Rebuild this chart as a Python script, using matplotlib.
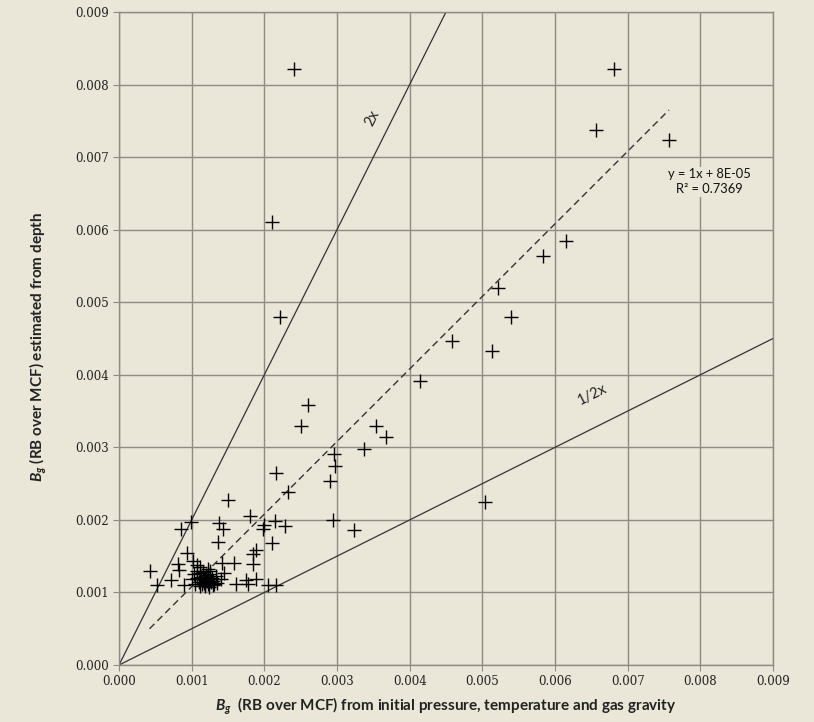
import numpy as np
import matplotlib
matplotlib.use("Agg")
import matplotlib.pyplot as plt

# Bg from pressure/temperature/gas gravity (x) vs Bg from depth (y)
bg_pvt = [
    0.00241, 0.00681, 0.00656, 0.00757, 0.00210, 0.00615, 0.00584, 0.00521,
    0.00539, 0.00513, 0.00222, 0.00458, 0.00414, 0.00260, 0.00251, 0.00353,
    0.00368, 0.00337, 0.00296, 0.00297, 0.00291, 0.00216, 0.00233, 0.00504,
    0.00295, 0.00323, 0.00229, 0.00210, 0.00214, 0.00199, 0.00150, 0.00180,
    0.00198, 0.00099, 0.00086, 0.00138, 0.00143, 0.00136, 0.00094, 0.00189,
    0.00185, 0.00184, 0.00158, 0.00081, 0.00082, 0.00042, 0.00052, 0.00071,
    0.00089, 0.00161, 0.00175, 0.00177, 0.00189, 0.00205, 0.00216, 0.00142,
    0.00145, 0.00102,
    # dense cluster
    0.00100, 0.00103, 0.00105, 0.00107, 0.00108, 0.00110, 0.00111, 0.00112,
    0.00113, 0.00114, 0.00115, 0.00116, 0.00117, 0.00118, 0.00119, 0.00120,
    0.00121, 0.00122, 0.00123, 0.00124, 0.00125, 0.00126, 0.00128, 0.00130,
    0.00131, 0.00133, 0.00135, 0.00112, 0.00118, 0.00125, 0.00108, 0.00130,
    0.00140, 0.00122, 0.00115,
]
bg_depth = [
    0.00821, 0.00821, 0.00738, 0.00723, 0.00611, 0.00585, 0.00564, 0.00519,
    0.00480, 0.00433, 0.00480, 0.00446, 0.00392, 0.00358, 0.00330, 0.00330,
    0.00314, 0.00298, 0.00291, 0.00274, 0.00253, 0.00265, 0.00238, 0.00225,
    0.00200, 0.00186, 0.00191, 0.00168, 0.00198, 0.00193, 0.00228, 0.00205,
    0.00187, 0.00197, 0.00188, 0.00196, 0.00187, 0.00170, 0.00155, 0.00158,
    0.00153, 0.00139, 0.00141, 0.00139, 0.00131, 0.00129, 0.00110, 0.00117,
    0.00110, 0.00112, 0.00117, 0.00112, 0.00118, 0.00110, 0.00110, 0.00141,
    0.00127, 0.00143,
    # dense cluster
    0.00118, 0.00125, 0.00112, 0.00130, 0.00120, 0.00115, 0.00109, 0.00127,
    0.00122, 0.00111, 0.00118, 0.00128, 0.00113, 0.00121, 0.00110, 0.00124,
    0.00116, 0.00112, 0.00119, 0.00108, 0.00126, 0.00114, 0.00120, 0.00116,
    0.00111, 0.00123, 0.00113, 0.00135, 0.00109, 0.00130, 0.00138, 0.00110,
    0.00119, 0.00133, 0.00122,
]

# Trend line as printed in the chart
trend_slope = 1.0
trend_intercept = 8e-05
trend_label = "y = 1x + 8E-05\nR² = 0.7369"

BG = "#EAE6D8"
GRID = "#8E8C84"

plt.rcParams["mathtext.fontset"] = "custom"
plt.rcParams["mathtext.it"] = "Lato:italic:bold"
plt.rcParams["mathtext.rm"] = "Lato:bold"

fig = plt.figure(figsize=(8.14, 7.22), dpi=100, facecolor=BG)
ax = fig.add_axes([0.1462, 0.0789, 0.8034, 0.9045], facecolor=BG)

ax.set_xlim(0, 0.009)
ax.set_ylim(0, 0.009)
ticks = np.arange(0, 0.0091, 0.001)
ax.set_xticks(ticks)
ax.set_yticks(ticks)
ax.set_xticklabels([f"{t:.3f}" for t in ticks], family="DejaVu Serif", fontsize=8.5, color="#222222")
ax.set_yticklabels([f"{t:.3f}" for t in ticks], family="DejaVu Serif", fontsize=8.5, color="#222222")
ax.tick_params(direction="out", length=4, width=0.8, color=GRID, pad=3)
ax.grid(True, color=GRID, linewidth=1.0)
ax.set_axisbelow(True)
for s in ax.spines.values():
    s.set_color(GRID)
    s.set_linewidth(1.0)

# reference lines 2x and 1/2x
ax.plot([0, 0.0045], [0, 0.009], color="#333333", linewidth=0.9)
ax.plot([0, 0.009], [0, 0.0045], color="#333333", linewidth=0.9)
ax.text(0.00349, 0.00753, "2x", rotation=63, ha="center", va="center",
        family="Lato", fontsize=10.5, color="#222222")
ax.text(0.00651, 0.00373, "1/2x", rotation=26.5, ha="center", va="center",
        family="Lato", fontsize=10.5, color="#222222")

# trend line across data range
xs = np.array([min(bg_pvt), max(bg_pvt)])
ax.plot(xs, trend_slope * xs + trend_intercept, color="#333333",
        linewidth=1.0, linestyle=(0, (5, 3)))

ax.plot(bg_pvt, bg_depth, linestyle="none", marker="+", markersize=9.5,
        markeredgewidth=1.0, color="black")

ax.text(0.00813, 0.00666, trend_label, ha="center", va="center",
        family="Lato", fontsize=9.3, color="#111111", linespacing=1.3,
        bbox=dict(facecolor=BG, edgecolor="none", pad=1))

ax.set_xlabel(r"$B_g$  (RB over MCF) from initial pressure, temperature and gas gravity",
              family="Lato", fontweight="bold", fontsize=11, color="#222222", labelpad=6)
ax.set_ylabel(r"$B_g$ (RB over MCF) estimated from depth",
              family="Lato", fontweight="bold", fontsize=11, color="#222222", labelpad=20)
ax.yaxis.set_label_coords(-0.107, 0.487)

fig.savefig("out.png", dpi=100, facecolor=BG)
